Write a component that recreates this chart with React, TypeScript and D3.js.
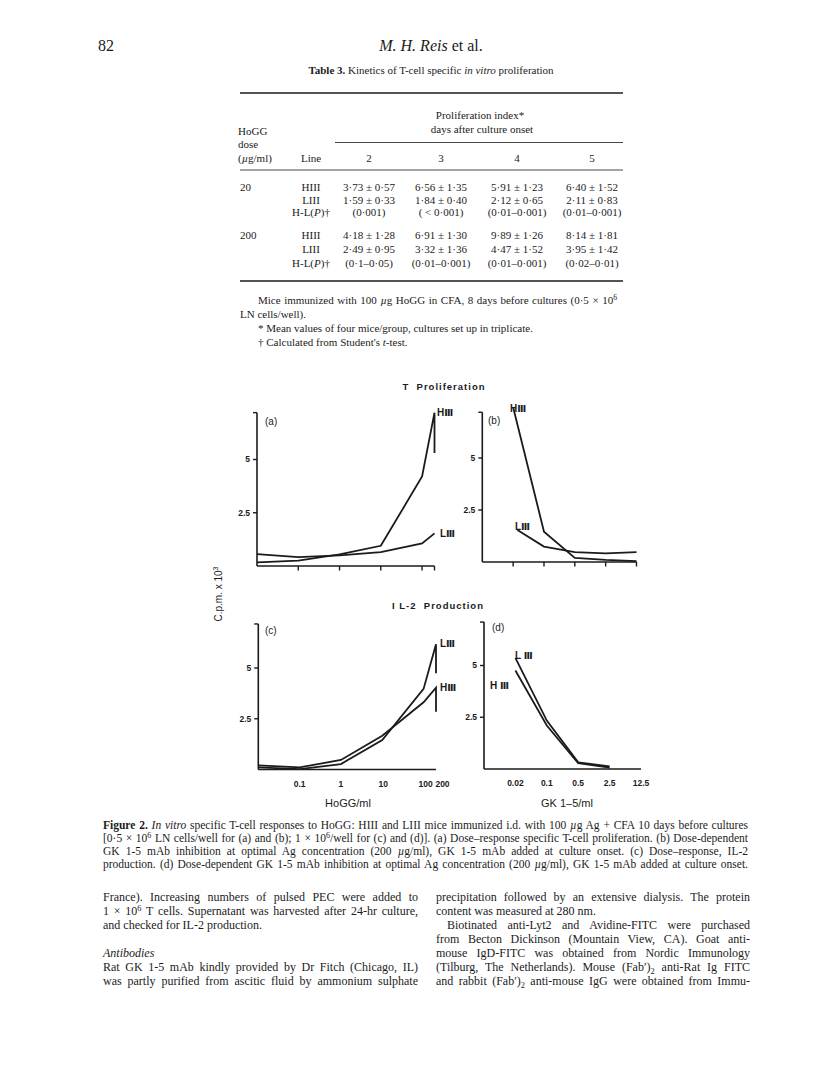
import React, { useRef, useLayoutEffect } from 'react';
import * as d3 from 'd3';

// ---------- DATA ----------
const doseTicks = [0.1, 1, 10, 100, 200];
const doseTickLabels = ['0.1', '1', '10', '100', '200'];
const gkTicks = [0.02, 0.1, 0.5, 2.5, 12.5];
const gkTickLabels = ['0.02', '0.1', '0.5', '2.5', '12.5'];
const yTickValues = [2.5, 5];

// (a) T proliferation, dose-response (HoGG µg/ml)
const aHIIIx = [0.01, 0.1, 1, 10, 100, 200, 200];
const aHIIIy = [0.17, 0.25, 0.55, 0.95, 4.2, 7.2, 5.3];
const aLIIIx = [0.01, 0.1, 1, 10, 100, 200];
const aLIIIy = [0.56, 0.42, 0.5, 0.65, 1.06, 1.53];
// (b) T proliferation, GK 1-5 inhibition (µg/ml)
const bHIIIx = [0.02, 0.1, 0.5, 2.5, 12.5];
const bHIIIy = [7.44, 1.46, 0.2, 0.1, 0.04];
const bLIIIx = [0.025, 0.1, 0.5, 2.5, 12.5];
const bLIIIy = [1.54, 0.74, 0.47, 0.41, 0.47];
// (c) IL-2 production, dose-response
const cLIIIx = [0.01, 0.1, 1, 10, 100, 200, 200];
const cLIIIy = [0.1, 0.02, 0.27, 1.45, 3.97, 6.17, 4.74];
const cHIIIx = [0.01, 0.1, 1, 10, 100, 200, 200];
const cHIIIy = [0.2, 0.1, 0.47, 1.66, 3.31, 4.03, 2.85];
// (d) IL-2 production, GK 1-5 inhibition
const dLIIIx = [0.02, 0.1, 0.5, 2.5];
const dLIIIy = [5.37, 2.34, 0.32, 0.13];
const dHIIIx = [0.02, 0.1, 0.5, 2.5];
const dHIIIy = [4.76, 2.1, 0.28, 0.07];

// Table 3
const tableDays = ['2', '3', '4', '5'];
const tableDoses = ['20', '200'];
const tableLines = ['HIII', 'LIII', 'H-L(P)†'];
const table20 = [
  ['3·73 ± 0·57', '6·56 ± 1·35', '5·91 ± 1·23', '6·40 ± 1·52'],
  ['1·59 ± 0·33', '1·84 ± 0·40', '2·12 ± 0·65', '2·11 ± 0·83'],
  ['(0·001)', '( < 0·001)', '(0·01–0·001)', '(0·01–0·001)'],
];
const table200 = [
  ['4·18 ± 1·28', '6·91 ± 1·30', '9·89 ± 1·26', '8·14 ± 1·81'],
  ['2·49 ± 0·95', '3·32 ± 1·36', '4·47 ± 1·52', '3·95 ± 1·42'],
  ['(0·1–0·05)', '(0·01–0·001)', '(0·01–0·001)', '(0·02–0·01)'],
];

// ---------- STYLE ----------
const serif = "'Liberation Serif', 'Times New Roman', serif";
const sans = "'Liberation Sans', Arial, 'DejaVu Sans', sans-serif";
const ink = '#1b1b1b';

type S = { xs: number[]; ys: number[] };

function Panel(props: {
  xScale: any; yScale: any; yMax: number; axisX0: number; axisX1: number;
  ticks?: number[]; labels?: string[]; labelDx?: number[]; series: S[];
}) {
  const { xScale, yScale, yMax, axisX0, axisX1, ticks, labels, labelDx, series } = props;
  const y0 = yScale(0);
  const line = d3.line<[number, number]>().x(d => xScale(d[0])).y(d => yScale(d[1]));
  return (
    <g>
      <line x1={axisX0} x2={axisX0} y1={y0} y2={yScale(yMax)} stroke={ink} strokeWidth={1.6} />
      {[...yTickValues, yMax].map((v, i) => (
        <line key={i} x1={axisX0 - 4} x2={axisX0} y1={yScale(v)} y2={yScale(v)} stroke={ink} strokeWidth={1.4} />
      ))}
      {yTickValues.map((v, i) => (
        <text key={i} x={axisX0 - 7} y={yScale(v)} dy="0.35em" textAnchor="end" fontFamily={sans}
          fontWeight="bold" fontSize={8.5} fill={ink}>{d3.format('')(v)}</text>
      ))}
      <line x1={axisX0} x2={axisX1} y1={y0} y2={y0} stroke={ink} strokeWidth={1.6} />
      {ticks && !labels && ticks.map((t, i) => (
        <line key={i} x1={xScale(t)} x2={xScale(t)} y1={y0} y2={y0 + 4.5} stroke={ink} strokeWidth={1.4} />
      ))}
      {ticks && labels && ticks.map((t, i) => (
        <text key={i} x={xScale(t) + (labelDx ? labelDx[i] : 0)} y={y0 + 17} textAnchor="middle"
          fontFamily={sans} fontWeight="bold" fontSize={8.5} fill={ink}>{labels[i]}</text>
      ))}
      {series.map((s, i) => (
        <path key={i} d={line(s.xs.map((x, j) => [x, s.ys[j]]) as [number, number][]) || ''}
          fill="none" stroke={ink} strokeWidth={1.8} strokeLinejoin="miter" />
      ))}
    </g>
  );
}

function Roman({ x, y, pre, size = 10 }: { x: number; y: number; pre: string; size?: number }) {
  return (
    <text x={x} y={y} fontFamily={sans} fontWeight="bold" fontSize={size} fill={ink} style={{ whiteSpace: 'pre' }}>
      {pre}<tspan fontFamily="'DejaVu Sans', sans-serif" fontWeight="bold" fontSize={size * 0.95}>Ⅲ</tspan>
    </text>
  );
}

// justified line: word spacing computed after layout
function J({ x, y, w, size, children, justify = true, family = serif }: any) {
  return (
    <text x={x} y={y} fontSize={size} fontFamily={family} fill={ink}
      data-w={justify ? w : undefined} style={{ whiteSpace: 'pre' }}>
      {children}
    </text>
  );
}

const Sup = ({ c, after }: { c: string; after?: string }) => (
  <><tspan dy={-4} fontSize="70%">{c}</tspan>{after ? <tspan dy={4}>{after}</tspan> : null}</>
);
const Sub = ({ c, after }: { c: string; after?: string }) => (
  <><tspan dy={3} fontSize="70%">{c}</tspan>{after ? <tspan dy={-3}>{after}</tspan> : null}</>
);
const I = ({ c }: { c: string }) => <tspan fontStyle="italic">{c}</tspan>;

export default function App() {
  const svgRef = useRef<SVGSVGElement>(null);
  useLayoutEffect(() => {
    const svg = svgRef.current;
    if (!svg) return;
    svg.querySelectorAll('text[data-w]').forEach((node) => {
      const el = node as SVGTextElement;
      const w = +(el.getAttribute('data-w') || 0);
      el.style.wordSpacing = '0px';
      const len = el.getComputedTextLength();
      const spaces = ((el.textContent || '').match(/ /g) || []).length;
      if (spaces > 0) el.style.wordSpacing = ((w - len) / spaces) + 'px';
    });
  }, []);

  const xA = d3.scaleLog().domain([0.01, 200]).range([257, 434.5]);
  const yA = d3.scaleLinear().domain([0, 7.2]).range([566, 566 - 7.2 * 21.3]);
  const xB = d3.scaleLog().domain([0.004, 12.5]).range([482.3, 636.5]);
  const yB = d3.scaleLinear().domain([0, 7.2]).range([562, 562 - 7.2 * 20.8]);
  const xC = d3.scaleLog().domain([0.01, 200]).range([258.3, 436]);
  const yC = d3.scaleLinear().domain([0, 7.17]).range([769.5, 769.5 - 7.17 * 20.3]);
  const xD = d3.scaleLog().domain([0.004, 12.5]).range([484, 641]);
  const yD = d3.scaleLinear().domain([0, 7.1]).range([769, 769 - 7.1 * 20.7]);

  const colX = [369, 441, 517, 592];
  const rows20 = [191, 204, 216];
  const rows200 = [239, 253, 267];
  const tfs = 11;

  const lineCell = (label: string, x: number, y: number) =>
    label === 'H-L(P)†'
      ? (<text x={x} y={y} textAnchor="middle" fontFamily={serif} fontSize={tfs} fill={ink}>H-L(<tspan fontStyle="italic">P</tspan>)†</text>)
      : (<text x={x} y={y} textAnchor="middle" fontFamily={serif} fontSize={tfs} fill={ink}>{label}</text>);

  const cap = { x: 103, w: 645, size: 11.5 };
  const capY = [829, 842, 855, 868];
  const bodyY = [901, 915, 929, 943, 957, 971, 985];
  const L = { x: 103, w: 315 };
  const R = { x: 436, w: 314 };
  const bs = 12;

  return (
    <svg ref={svgRef} width={816} height={1078} style={{ position: 'absolute', left: 0, top: 0, background: '#fff' }}>
      <rect width={816} height={1078} fill="#fff" />
      {/* running header */}
      <text x={98} y={51} fontFamily={serif} fontSize={16} fill={ink}>82</text>
      <text x={431} y={51} textAnchor="middle" fontFamily={serif} fontSize={16} fill={ink}>
        <tspan fontStyle="italic">M. H. Reis</tspan> et al.
      </text>

      {/* Table 3 */}
      <text x={431} y={74} textAnchor="middle" fontFamily={serif} fontSize={11} fill={ink}>
        <tspan fontWeight="bold">Table 3.</tspan> Kinetics of T-cell specific <tspan fontStyle="italic">in vitro</tspan> proliferation
      </text>
      <line x1={240} x2={623} y1={93} y2={93} stroke={ink} strokeWidth={1.6} />
      <text x={480} y={119} textAnchor="middle" fontFamily={serif} fontSize={tfs} fill={ink}>Proliferation index*</text>
      <text x={482} y={133} textAnchor="middle" fontFamily={serif} fontSize={tfs} fill={ink}>days after culture onset</text>
      <line x1={335} x2={623} y1={142.5} y2={142.5} stroke={ink} strokeWidth={0.8} />
      <text x={238} y={135} fontFamily={serif} fontSize={tfs} fill={ink}>HoGG</text>
      <text x={238} y={148} fontFamily={serif} fontSize={tfs} fill={ink}>dose</text>
      <text x={238} y={162} fontFamily={serif} fontSize={tfs} fill={ink}>(<tspan fontStyle="italic">µ</tspan>g/ml)</text>
      <text x={311} y={162} textAnchor="middle" fontFamily={serif} fontSize={tfs} fill={ink}>Line</text>
      {tableDays.map((d, i) => (
        <text key={d} x={colX[i]} y={162} textAnchor="middle" fontFamily={serif} fontSize={tfs} fill={ink}>{d}</text>
      ))}
      <line x1={240} x2={623} y1={170} y2={170} stroke={ink} strokeWidth={0.8} />
      {[table20, table200].map((tb, g) => {
        const rows = g === 0 ? rows20 : rows200;
        return (
          <g key={g}>
            <text x={240} y={rows[0]} fontFamily={serif} fontSize={tfs} fill={ink}>{tableDoses[g]}</text>
            {tableLines.map((ln, r) => (
              <g key={r}>
                {lineCell(ln, 311, rows[r])}
                {tb[r].map((v, c) => (
                  <text key={c} x={colX[c]} y={rows[r]} textAnchor="middle" fontFamily={serif} fontSize={tfs} fill={ink}>{v}</text>
                ))}
              </g>
            ))}
          </g>
        );
      })}
      <line x1={240} x2={623} y1={281} y2={281} stroke={ink} strokeWidth={1.6} />
      <J x={258} y={304} w={359} size={tfs}>Mice immunized with 100 <I c="µ" />g HoGG in CFA, 8 days before cultures (0·5 × 10<Sup c="6" /></J>
      <J x={240} y={318} size={tfs} justify={false}>LN cells/well).</J>
      <J x={258} y={332} size={tfs} justify={false}>* Mean values of four mice/group, cultures set up in triplicate.</J>
      <J x={258} y={346} size={tfs} justify={false}>† Calculated from Student's <I c="t" />-test.</J>

      {/* Figure */}
      <text x={444} y={390} textAnchor="middle" fontFamily={sans} fontWeight="bold" fontSize={9.5}
        letterSpacing={1} style={{ whiteSpace: 'pre' }} fill={ink}>T  Proliferation</text>
      <text x={438} y={609} textAnchor="middle" fontFamily={sans} fontWeight="bold" fontSize={9.5}
        letterSpacing={1} style={{ whiteSpace: 'pre' }} fill={ink}>I L-2  Production</text>

      <Panel xScale={xA} yScale={yA} yMax={7.2} axisX0={257} axisX1={434.5} ticks={doseTicks}
        series={[{ xs: aHIIIx, ys: aHIIIy }, { xs: aLIIIx, ys: aLIIIy }]} />
      <Panel xScale={xB} yScale={yB} yMax={7.2} axisX0={482.3} axisX1={636.5} ticks={gkTicks}
        series={[{ xs: bHIIIx, ys: bHIIIy }, { xs: bLIIIx, ys: bLIIIy }]} />
      <Panel xScale={xC} yScale={yC} yMax={7.17} axisX0={258.3} axisX1={436} ticks={doseTicks}
        labels={doseTickLabels} labelDx={[0, 0, 1, 2, 6.5]}
        series={[{ xs: cLIIIx, ys: cLIIIy }, { xs: cHIIIx, ys: cHIIIy }]} />
      <Panel xScale={xD} yScale={yD} yMax={7.1} axisX0={484} axisX1={641} ticks={gkTicks}
        labels={gkTickLabels}
        series={[{ xs: dLIIIx, ys: dLIIIy }, { xs: dHIIIx, ys: dHIIIy }]} />

      <text x={265} y={425} fontFamily={sans} fontSize={10} fill={ink}>(a)</text>
      <text x={488} y={424} fontFamily={sans} fontSize={10} fill={ink}>(b)</text>
      <text x={265} y={634} fontFamily={sans} fontSize={10} fill={ink}>(c)</text>
      <text x={492} y={631} fontFamily={sans} fontSize={10} fill={ink}>(d)</text>

      <Roman x={437} y={416} pre="H" />
      <Roman x={440} y={537} pre="L" />
      <Roman x={510} y={411.5} pre="H" />
      <Roman x={515} y={530} pre="L" />
      <Roman x={440} y={646.5} pre="L" />
      <Roman x={440} y={691} pre="H" />
      <Roman x={515} y={659} pre="L " />
      <Roman x={490} y={689} pre="H " />

      <text x={348} y={807} textAnchor="middle" fontFamily={sans} fontSize={11} fill={ink}>HoGG/ml</text>
      <text x={567} y={807} textAnchor="middle" fontFamily={sans} fontSize={11} fill={ink}>GK 1–5/ml</text>
      <text transform="translate(222,594) rotate(-90)" textAnchor="middle" fontFamily={sans} fontSize={10} fill={ink}>
        C.p.m. x 10<Sup c="3" />
      </text>

      {/* Figure caption */}
      <J x={cap.x} y={capY[0]} w={cap.w} size={cap.size}><tspan fontWeight="bold">Figure 2.</tspan> <I c="In vitro" /> specific T-cell responses to HoGG: HIII and LIII mice immunized i.d. with 100 <I c="µ" />g Ag + CFA 10 days before cultures</J>
      <J x={cap.x} y={capY[1]} w={cap.w} size={cap.size}>[0·5 × 10<Sup c="6" after=" LN cells/well for (a) and (b); 1 × 10" /><Sup c="6" after="/well for (c) and (d)]. (a) Dose–response specific T-cell proliferation. (b) Dose-dependent" /></J>
      <J x={cap.x} y={capY[2]} w={cap.w} size={cap.size}>GK 1-5 mAb inhibition at optimal Ag concentration (200 <I c="µ" />g/ml), GK 1-5 mAb added at culture onset. (c) Dose–response, IL-2</J>
      <J x={cap.x} y={capY[3]} w={cap.w} size={cap.size}>production. (d) Dose-dependent GK 1-5 mAb inhibition at optimal Ag concentration (200 <I c="µ" />g/ml), GK 1-5 mAb added at culture onset.</J>

      {/* Body text, left column */}
      <J x={L.x} y={bodyY[0]} w={L.w} size={bs}>France). Increasing numbers of pulsed PEC were added to</J>
      <J x={L.x} y={bodyY[1]} w={L.w} size={bs}>1 × 10<Sup c="6" after=" T cells. Supernatant was harvested after 24-hr culture," /></J>
      <J x={L.x} y={bodyY[2]} size={bs} justify={false}>and checked for IL-2 production.</J>
      <J x={L.x} y={bodyY[4]} size={bs} justify={false}><I c="Antibodies" /></J>
      <J x={L.x} y={bodyY[5]} w={L.w} size={bs}>Rat GK 1-5 mAb kindly provided by Dr Fitch (Chicago, IL)</J>
      <J x={L.x} y={bodyY[6]} w={L.w} size={bs}>was partly purified from ascitic fluid by ammonium sulphate</J>

      {/* Body text, right column */}
      <J x={R.x} y={bodyY[0]} w={R.w} size={bs}>precipitation followed by an extensive dialysis. The protein</J>
      <J x={R.x} y={bodyY[1]} size={bs} justify={false}>content was measured at 280 nm.</J>
      <J x={R.x + 11} y={bodyY[2]} w={R.w - 11} size={bs}>Biotinated anti-Lyt2 and Avidine-FITC were purchased</J>
      <J x={R.x} y={bodyY[3]} w={R.w} size={bs}>from Becton Dickinson (Mountain View, CA). Goat anti-</J>
      <J x={R.x} y={bodyY[4]} w={R.w} size={bs}>mouse IgD-FITC was obtained from Nordic Immunology</J>
      <J x={R.x} y={bodyY[5]} w={R.w} size={bs}>(Tilburg, The Netherlands). Mouse (Fab′)<Sub c="2" after=" anti-Rat Ig FITC" /></J>
      <J x={R.x} y={bodyY[6]} w={R.w} size={bs}>and rabbit (Fab′)<Sub c="2" after=" anti-mouse IgG were obtained from Immu-" /></J>
    </svg>
  );
}
